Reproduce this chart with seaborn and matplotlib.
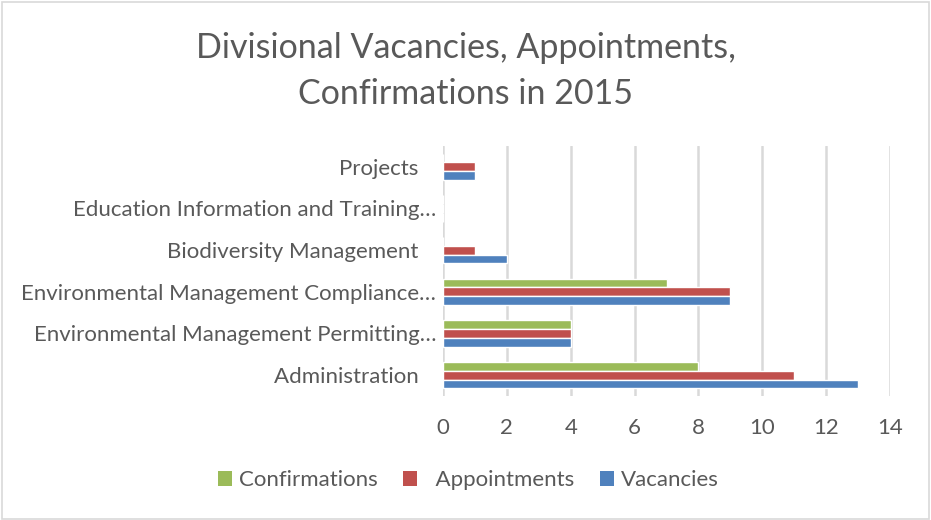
import pandas as pd
import matplotlib.pyplot as plt
import seaborn as sns
from matplotlib.patches import Rectangle, Patch

# Data
categories = [
    'Projects',
    'Education Information and Training…',
    'Biodiversity Management',
    'Environmental Management Compliance…',
    'Environmental Management Permitting…',
    'Administration',
]
confirmations = [0, 0, 0, 7, 4, 8]
appointments = [1, 0, 1, 9, 4, 11]
vacancies = [1, 0, 2, 9, 4, 13]

series = ['Confirmations', 'Appointments', 'Vacancies']
colors = {'Confirmations': '#9BBB59', 'Appointments': '#C0504D', 'Vacancies': '#4F81BD'}

rows = []
for i, cat in enumerate(categories):
    rows.append((cat, 'Confirmations', confirmations[i]))
    rows.append((cat, 'Appointments', appointments[i]))
    rows.append((cat, 'Vacancies', vacancies[i]))
df = pd.DataFrame(rows, columns=['Division', 'Series', 'Count'])

sns.set_style('white')
plt.rcParams['font.family'] = ['Lato', 'DejaVu Sans']
text_color = '#595959'

fig = plt.figure(figsize=(9.31, 5.2), dpi=100)
ax = fig.add_axes([443 / 931, 1 - 396 / 520, 447 / 931, 250 / 520])

sns.barplot(data=df, x='Count', y='Division', hue='Series', order=categories,
            hue_order=series, palette=colors, orient='h', width=0.625,
            saturation=1, legend=False, ax=ax)

ax.set_xlim(0, 14)
ax.set_xticks(range(0, 15, 2))
ax.set_ylim(len(categories) - 0.5, -0.5)
ax.set_xlabel('')
ax.set_ylabel('')
ax.set_axisbelow(True)
ax.xaxis.grid(True, color='#D9D9D9', linewidth=1.8)
for s in ax.spines.values():
    s.set_visible(False)

# Excel leaves a gap after un-truncated labels
ylabels = [c if c.endswith('…') else c + '   ' for c in categories]
ax.set_yticks(range(len(categories)))
ax.set_yticklabels(ylabels)
ax.tick_params(axis='y', length=0, pad=5, labelsize=16, labelcolor=text_color)
ax.tick_params(axis='x', length=0, pad=16, labelsize=16, labelcolor=text_color)

fig.text(0.5, 1 - 71 / 520, 'Divisional Vacancies, Appointments,\nConfirmations in 2015',
         ha='center', va='center', fontsize=24.5, color=text_color, linespacing=1.5)

handles = [Patch(facecolor=colors[s], edgecolor='none') for s in series]
legend_labels = ['Confirmations', '  Appointments', 'Vacancies']
fig.legend(handles, legend_labels, loc='center', bbox_to_anchor=(0.503, 1 - 480 / 520),
           ncol=3, frameon=False, fontsize=16, labelcolor=text_color,
           handlelength=0.65, handleheight=0.65, handletextpad=0.3, columnspacing=1.15)

fig.patches.append(Rectangle((0.002, 0.002), 0.996, 0.994, transform=fig.transFigure,
                             fill=False, edgecolor='#D9D9D9', linewidth=1.2))

fig.savefig('out.png', dpi=100)
